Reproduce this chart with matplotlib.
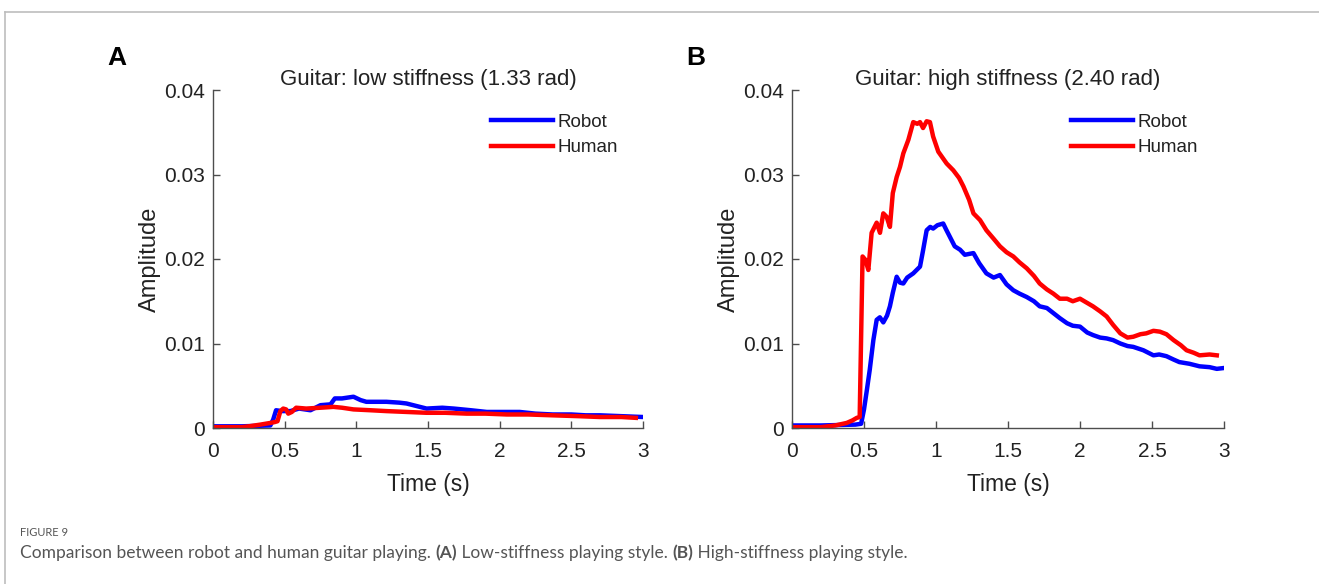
import matplotlib.pyplot as plt
import numpy as np

# Panel A: low stiffness (1.33 rad)
t_robot_a = [0.0, 0.2, 0.4, 0.42, 0.44, 0.48, 0.54, 0.6, 0.68, 0.75, 0.82, 0.85, 0.9, 0.98, 1.03,
             1.07, 1.15, 1.21, 1.3, 1.35, 1.42, 1.49, 1.6, 1.68, 1.8, 1.91, 2.0, 2.14, 2.25, 2.37,
             2.5, 2.6, 2.7, 2.85, 3.0]
y_robot_a = [0.0002, 0.0002, 0.0003, 0.0010, 0.0021, 0.0020, 0.0020, 0.0023, 0.0021, 0.0027, 0.0028,
             0.0035, 0.0035, 0.0037, 0.0033, 0.0031, 0.0031, 0.0031, 0.0030, 0.0029, 0.0026, 0.0023,
             0.0024, 0.0023, 0.0021, 0.0019, 0.0019, 0.0019, 0.0017, 0.0016, 0.0016, 0.0015, 0.0015,
             0.0014, 0.0013]
t_human_a = [0.0, 0.2, 0.25, 0.33, 0.4, 0.43, 0.45, 0.47, 0.49, 0.51, 0.525, 0.55, 0.58, 0.65, 0.75,
             0.84, 0.9, 0.98, 1.1, 1.21, 1.35, 1.49, 1.62, 1.77, 1.9, 2.05, 2.2, 2.37, 2.55, 2.7,
             2.85, 2.95]
y_human_a = [0.0001, 0.0001, 0.0002, 0.0004, 0.0006, 0.0007, 0.0008, 0.0020, 0.0023, 0.0022, 0.0017,
             0.0019, 0.0024, 0.0023, 0.0024, 0.0025, 0.0024, 0.0022, 0.0021, 0.0020, 0.0019, 0.0018,
             0.0018, 0.0017, 0.0017, 0.0016, 0.0016, 0.0015, 0.0014, 0.0013, 0.0013, 0.0012]

# Panel B: high stiffness (2.40 rad)
t_robot_b = [0.0, 0.2, 0.44, 0.48, 0.5, 0.52, 0.54, 0.565, 0.588, 0.61, 0.634, 0.66, 0.68, 0.7,
             0.727, 0.75, 0.773, 0.8, 0.842, 0.889, 0.91, 0.935, 0.96, 0.98, 1.01, 1.05, 1.07,
             1.097, 1.13, 1.167, 1.2, 1.26, 1.3, 1.35, 1.4, 1.444, 1.49, 1.537, 1.58, 1.63, 1.68,
             1.72, 1.77, 1.815, 1.86, 1.91, 1.95, 2.0, 2.05, 2.09, 2.14, 2.185, 2.23, 2.28, 2.33,
             2.37, 2.44, 2.51, 2.55, 2.6, 2.65, 2.69, 2.76, 2.83, 2.9, 2.95, 3.0]
y_robot_b = [0.0003, 0.0003, 0.0004, 0.0005, 0.0022, 0.0045, 0.0069, 0.0104, 0.0128, 0.0131, 0.0125,
             0.0133, 0.0144, 0.0160, 0.0179, 0.0172, 0.0171, 0.0178, 0.0183, 0.0191, 0.0210, 0.0234,
             0.0238, 0.0236, 0.0240, 0.0242, 0.0235, 0.0226, 0.0215, 0.0211, 0.0205, 0.0207, 0.0195,
             0.0183, 0.0178, 0.0181, 0.0170, 0.0163, 0.0159, 0.0155, 0.0150, 0.0144, 0.0142, 0.0136,
             0.0130, 0.0124, 0.0121, 0.0120, 0.0113, 0.0110, 0.0107, 0.0106, 0.0104, 0.0100, 0.0097,
             0.0096, 0.0092, 0.0086, 0.0087, 0.0085, 0.0081, 0.0078, 0.0076, 0.0073, 0.0072, 0.0070,
             0.0071]
t_human_b = [0.0, 0.2, 0.3, 0.38, 0.42, 0.45, 0.47, 0.49, 0.51, 0.53, 0.553, 0.588, 0.611, 0.634,
             0.657, 0.68, 0.70, 0.727, 0.75, 0.773, 0.808, 0.842, 0.87, 0.889, 0.91, 0.935, 0.958,
             0.98, 1.016, 1.045, 1.074, 1.12, 1.16, 1.19, 1.23, 1.26, 1.306, 1.35, 1.4, 1.444, 1.49,
             1.537, 1.58, 1.63, 1.68, 1.72, 1.77, 1.815, 1.86, 1.91, 1.95, 2.0, 2.05, 2.09, 2.14,
             2.185, 2.23, 2.28, 2.33, 2.37, 2.42, 2.46, 2.51, 2.555, 2.6, 2.65, 2.7, 2.74, 2.79,
             2.83, 2.9, 2.95]
y_human_b = [0.0001, 0.0001, 0.0003, 0.0006, 0.0009, 0.0012, 0.0013, 0.0203, 0.0199, 0.0187, 0.0231,
             0.0243, 0.0231, 0.0254, 0.0250, 0.0238, 0.0278, 0.0297, 0.0309, 0.0325, 0.0341, 0.0362,
             0.0360, 0.0362, 0.0355, 0.0363, 0.0362, 0.0345, 0.0327, 0.0320, 0.0313, 0.0305, 0.0296,
             0.0286, 0.0270, 0.0254, 0.0246, 0.0234, 0.0224, 0.0215, 0.0208, 0.0203, 0.0196, 0.0189,
             0.0180, 0.0171, 0.0164, 0.0159, 0.0153, 0.0153, 0.0150, 0.0153, 0.0148, 0.0144, 0.0138,
             0.0132, 0.0122, 0.0112, 0.0107, 0.0108, 0.0111, 0.0112, 0.0115, 0.0114, 0.0111, 0.0104,
             0.0098, 0.0092, 0.0089, 0.0086, 0.0087, 0.0086]

titles = ['Guitar: low stiffness (1.33 rad)', 'Guitar: high stiffness (2.40 rad)']
panel_labels = ['A', 'B']
x_ticks = [0, 0.5, 1, 1.5, 2, 2.5, 3]
x_tick_labels = ['0', '0.5', '1', '1.5', '2', '2.5', '3']
y_ticks = [0, 0.01, 0.02, 0.03, 0.04]
y_tick_labels = ['0', '0.01', '0.02', '0.03', '0.04']

plt.rcParams['font.family'] = ['Liberation Sans', 'DejaVu Sans']

fig = plt.figure(figsize=(13.19, 5.84), dpi=100, facecolor='white')

# page frame (top and left rules)
fig.add_artist(plt.Line2D([5 / 1319, 1], [1 - 12 / 584, 1 - 12 / 584], color='#bdbdbd', lw=1.2))
fig.add_artist(plt.Line2D([4.5 / 1319, 4.5 / 1319], [0, 1 - 12 / 584], color='#bdbdbd', lw=1.2))

axes_boxes = [(213 / 1319, 156 / 584, 430 / 1319, 338 / 584),
              (792 / 1319, 156 / 584, 432 / 1319, 338 / 584)]
series = [((t_robot_a, y_robot_a), (t_human_a, y_human_a)),
          ((t_robot_b, y_robot_b), (t_human_b, y_human_b))]
label_x = [117, 696]

for i, box in enumerate(axes_boxes):
    ax = fig.add_axes(box)
    (tr, yr), (th, yh) = series[i]
    ax.plot(tr, yr, color='#0000ff', lw=3.2, label='Robot', solid_joinstyle='round')
    ax.plot(th, yh, color='#ff0000', lw=3.2, label='Human', solid_joinstyle='round')
    ax.set_xlim(0, 3)
    ax.set_ylim(0, 0.04)
    ax.set_xticks(x_ticks)
    ax.set_xticklabels(x_tick_labels)
    ax.set_yticks(y_ticks)
    ax.set_yticklabels(y_tick_labels)
    for s in ['top', 'right']:
        ax.spines[s].set_visible(False)
    for s in ['left', 'bottom']:
        ax.spines[s].set_color('#4d4d4d')
        ax.spines[s].set_linewidth(1.0)
    ax.tick_params(direction='in', length=5, width=1.0, color='#4d4d4d',
                   labelsize=15, labelcolor='#222222')
    ax.tick_params(axis='x', pad=10)
    ax.tick_params(axis='y', pad=6)
    ax.set_xlabel('Time (s)', fontsize=16.5, color='#222222', labelpad=9)
    ax.set_ylabel('Amplitude', fontsize=17, color='#222222', labelpad=2)
    ax.set_title(titles[i], fontsize=16, color='#222222', pad=3)
    leg = ax.legend(loc='upper left', bbox_to_anchor=(0.646, 0.93), frameon=False,
                    fontsize=13.5, handlelength=3.3, handletextpad=0.25, labelspacing=0.45,
                    borderaxespad=0, borderpad=0)
    for txt in leg.get_texts():
        txt.set_color('#222222')
    fig.text(label_x[i] / 1319, 1 - 58 / 584, panel_labels[i], fontsize=19, fontweight='bold',
             ha='center', va='center', color='black')

# caption
fig.text(20 / 1319, 1 - 533 / 584, 'FIGURE 9', fontsize=8, color='#555555',
         family=['Lato', 'DejaVu Sans'], va='center')

caption_parts = [('Comparison between robot and human guitar playing. ', 'normal'),
                 ('(A)', 'bold'),
                 (' Low-stiffness playing style. ', 'normal'),
                 ('(B)', 'bold'),
                 (' High-stiffness playing style.', 'normal')]
fig.canvas.draw()
renderer = fig.canvas.get_renderer()
x_px = 20
for txt, weight in caption_parts:
    t = fig.text(x_px / 1319, 1 - 553 / 584, txt, fontsize=12.5, color='#555555',
                 family=['Lato', 'DejaVu Sans'], fontweight=weight, va='center')
    bb = t.get_window_extent(renderer=renderer)
    x_px += bb.width

fig.savefig('out.png', dpi=100, facecolor='white')
